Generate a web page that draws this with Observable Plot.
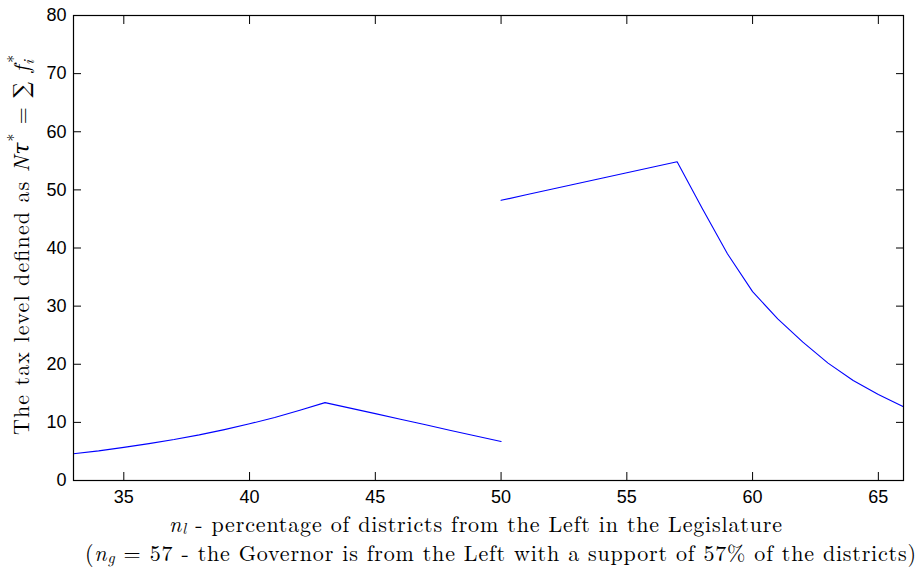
<!DOCTYPE html>
<html>
<head>
<meta charset="utf-8">
<script src="https://cdn.jsdelivr.net/npm/d3@7"></script>
<script src="https://cdn.jsdelivr.net/npm/@observablehq/plot@0.6"></script>
<style>
  html, body { margin: 0; padding: 0; background: #fff; }
</style>
</head>
<body>
<div id="chart"></div>
<script>
// Segment 1: n_l from 33 to 50
const xLow = [33, 34, 35, 36, 37, 38, 39, 40, 41, 42, 43, 44, 45, 46, 47, 48, 49, 50];
const yLow = [4.6, 5.1, 5.7, 6.35, 7.05, 7.85, 8.75, 9.75, 10.85, 12.1, 13.4, 12.45, 11.5, 10.55, 9.6, 8.6, 7.65, 6.7];
// Segment 2: n_l from 50 to 66
const xHigh = [50, 51, 52, 53, 54, 55, 56, 57, 58, 59, 60, 61, 62, 63, 64, 65, 66];
const yHigh = [48.2, 49.15, 50.1, 51.05, 52.0, 52.95, 53.9, 54.85, 46.8, 39.0, 32.5, 27.8, 23.8, 20.2, 17.2, 14.8, 12.7];

const xTicks = [35, 40, 45, 50, 55, 60, 65];
const yTicks = [0, 10, 20, 30, 40, 50, 60, 70, 80];

const data = [
  ...xLow.map((x, i) => ({x, y: yLow[i], seg: "low"})),
  ...xHigh.map((x, i) => ({x, y: yHigh[i], seg: "high"}))
];

const W = 919, H = 567;
const mL = 73, mR = 16, mT = 15, mB = 87;

const svg = Plot.plot({
  width: W,
  height: H,
  marginLeft: mL,
  marginRight: mR,
  marginTop: mT,
  marginBottom: mB,
  style: {fontFamily: "'Liberation Sans', Arial, Helvetica, sans-serif", fontSize: "18px", color: "black", background: "white", overflow: "visible"},
  x: {domain: [33, 66], label: null},
  y: {domain: [0, 80], label: null},
  marks: [
    Plot.axisX(xTicks, {anchor: "bottom", tickSize: -8, tickPadding: 18, label: null, stroke: "black"}),
    Plot.axisX(xTicks, {anchor: "top", tickSize: -8, tickFormat: () => "", label: null, stroke: "black"}),
    Plot.axisY(yTicks, {anchor: "left", tickSize: -8, tickPadding: 15, label: null, stroke: "black"}),
    Plot.axisY(yTicks, {anchor: "right", tickSize: -8, tickFormat: () => "", label: null, stroke: "black"}),
    Plot.line(data, {x: "x", y: "y", z: "seg", stroke: "#0000ff", strokeWidth: 1.1}),
    Plot.frame({stroke: "black", strokeWidth: 1.2})
  ]
});

document.getElementById("chart").appendChild(svg);

const s = d3.select(svg);
const serif = "'Latin Modern Roman', 'CMU Serif', 'DejaVu Serif', 'Liberation Serif', serif";
const FS = 22, SUB = 15.5;

// X label line 1 (spans ~169..782)
const t1 = s.append("text")
  .attr("x", 475.5).attr("y", 531.5)
  .attr("text-anchor", "middle")
  .attr("font-family", serif)
  .attr("font-size", FS)
  .attr("textLength", 613)
  .attr("lengthAdjust", "spacing")
  .attr("fill", "black");
t1.append("tspan").attr("font-style", "italic").text("n");
t1.append("tspan").attr("font-style", "italic").attr("font-size", SUB).attr("dy", 2).text("l");
t1.append("tspan").attr("dy", -2).text(" - percentage of districts from the Left in the Legislature");

// X label line 2 (spans ~85..916)
const t2 = s.append("text")
  .attr("x", 500.5).attr("y", 560.5)
  .attr("text-anchor", "middle")
  .attr("font-family", serif)
  .attr("font-size", FS)
  .attr("textLength", 831)
  .attr("lengthAdjust", "spacing")
  .attr("fill", "black");
t2.append("tspan").text("(");
t2.append("tspan").attr("font-style", "italic").text("n");
t2.append("tspan").attr("font-style", "italic").attr("font-size", SUB).attr("dy", 2).text("g");
t2.append("tspan").attr("dy", -2).text(" = 57 - the Governor is from the Left with a support of 57% of the districts)");

// Y label (rotated, spans y ~435..55)
const yl = s.append("text")
  .attr("transform", `translate(29, 245) rotate(-90)`)
  .attr("text-anchor", "middle")
  .attr("font-family", serif)
  .attr("font-size", FS)
  .attr("textLength", 380)
  .attr("lengthAdjust", "spacing")
  .attr("fill", "black");
yl.append("tspan").text("The tax level defined as ");
yl.append("tspan").attr("font-style", "italic").text("Nτ");
yl.append("tspan").attr("font-size", SUB).attr("dy", -10).text("*");
yl.append("tspan").attr("dy", 10).text(" = ∑ ");
yl.append("tspan").attr("font-style", "italic").text("f");
yl.append("tspan").attr("font-style", "italic").attr("font-size", SUB).attr("dy", 5).text("i");
yl.append("tspan").attr("font-size", SUB).attr("dx", -4).attr("dy", -15).text("*");
</script>
</body>
</html>
